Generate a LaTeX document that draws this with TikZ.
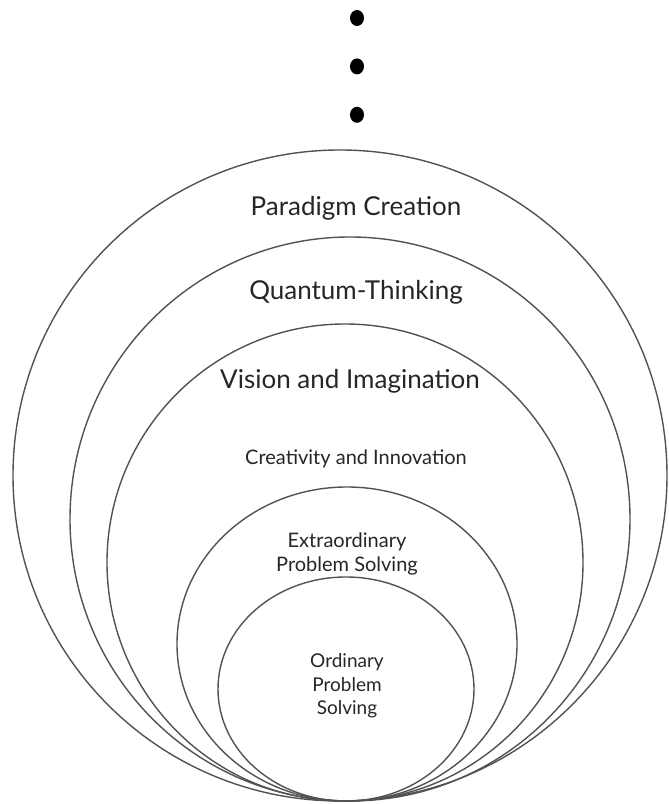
\documentclass[tikz,border=0pt]{standalone}
\usepackage{fontspec}
\setmainfont{Lato}
\usetikzlibrary{positioning,shapes.geometric}

\begin{document}
\begin{tikzpicture}[x=1pt, y=1pt,
        ring/.style={draw=black!68, line width=1.4pt, ellipse, inner sep=0pt, outer sep=0pt},
        dot/.style={fill=black, ellipse, inner sep=0pt, minimum width=14pt, minimum height=16pt},
        big/.style={font=\fontsize{26}{30}\selectfont, text=black!85},
        mid/.style={font=\fontsize{20}{24}\selectfont, text=black!85, align=center},
        small/.style={font=\fontsize{19}{23.5}\selectfont, text=black!85, align=center}
    ]
    \useasboundingbox (0,0) rectangle (669,804);

    % Dots on top
    \node[dot] (dot1) at (357,786) {};
    \node[dot, below=32pt of dot1] (dot2) {};
    \node[dot, below=32pt of dot2] (dot3) {};

    % Nested rings, all resting on the same bottom point
    \node[ring, minimum width=654pt, minimum height=651pt] (paradigm) at (340,328.5) {};
    \node[ring, minimum width=560pt, minimum height=564pt] (quantum) at (350,285) {};
    \node[ring, minimum width=476pt, minimum height=477pt] (vision) at (345,241.5) {};
    \node[ring, minimum width=340pt, minimum height=314pt] (extra) at (347,160) {};
    \node[ring, minimum width=256pt, minimum height=224pt] (ordinary) at (346,115) {};

    % Labels
    \node[big, anchor=base] (paradigmText) at (356,588) {Paradigm Creation};
    \node[big, anchor=base] (quantumText) at (356,504) {Quantum-Thinking};
    \node[big, anchor=base] (visionText) at (350,415) {Vision and Imagination};
    \node[mid, anchor=base] (creativeText) at (356,339) {Creativity and Innovation};
    \node[mid] (extraText) at (347,250) {Extraordinary\\Problem Solving};
    \node[small] (ordinaryText) at (347,118) {Ordinary\\Problem\\Solving};
\end{tikzpicture}
\end{document}
